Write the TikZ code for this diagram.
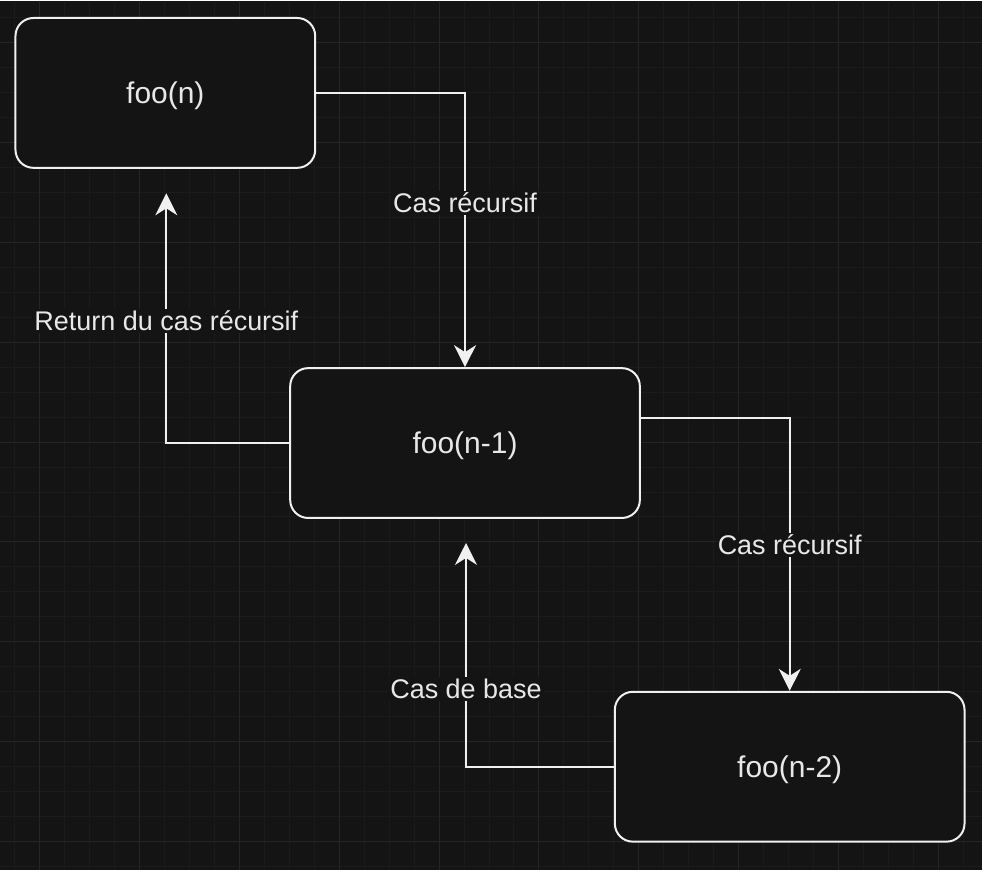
\documentclass[tikz,border=0pt]{standalone}
\usepackage{fontspec}
\setmainfont{Liberation Sans}
\usepackage{xcolor}
\definecolor{cvdark}{RGB}{20,20,20}
\definecolor{cvgrid}{RGB}{27,27,27}
\definecolor{cvmajor}{RGB}{37,37,37}
\definecolor{cvline}{RGB}{240,240,240}
\definecolor{cvtext}{RGB}{232,232,232}
\usepackage{tikz}
\usetikzlibrary{arrows.meta, positioning}

\tikzset{
  callbox/.style={draw=cvline, fill=cvdark, line width=2pt, rounded corners=18pt,
    minimum height=150pt, text=cvtext, text depth=-4pt,
    font=\fontsize{30}{36}\selectfont},
  link/.style={draw=cvline, line width=2pt,
    -{Stealth[length=22pt, width=22pt, inset=7pt]}},
  lbl/.style={fill=cvdark, text=cvtext, inner sep=2pt,
    font=\fontsize{27}{32}\selectfont}
}

\begin{document}
\begin{tikzpicture}[x=1pt, y=-1pt]
      % canvas and grid
      \fill[cvdark] (0,0) rectangle (982,870);
      \foreach \gx in {14,39,...,982}
        \draw[cvgrid, line width=1pt] (\gx,0) -- (\gx,870);
      \foreach \gy in {17,42,...,870}
        \draw[cvgrid, line width=1pt] (0,\gy) -- (982,\gy);
      \foreach \gx in {39,139,...,982}
        \draw[cvmajor, line width=1pt] (\gx,0) -- (\gx,870);
      \foreach \gy in {42,142,...,870}
        \draw[cvmajor, line width=1pt] (0,\gy) -- (982,\gy);

      % calls
      \node[callbox, minimum width=300pt] (fooN) at (165,92.5) {foo(n)};
      \node[callbox, minimum width=350pt] (fooN1) at (465,443) {foo(n-1)};
      \node[callbox, minimum width=350pt] (fooN2) at (790,767) {foo(n-2)};

      \coordinate (retTip) at (166,193);
      \coordinate (baseTip) at (466,543);

      % recursion and returns
      \draw[link] (fooN.east) -| node[lbl, pos=0.7] (lblRec) {Cas récursif} (fooN1.north);
      \draw[link] (fooN1.west) -| node[lbl, pos=0.745] (lblRet) {Return du cas récursif} (retTip);
      \draw[link] ([yshift=25pt]fooN1.east) -| node[lbl, pos=0.733] (lblRec2) {Cas récursif} (fooN2.north);
      \draw[link] (fooN2.west) -| node[lbl, pos=0.674] (lblBase) {Cas de base} (baseTip);
    \end{tikzpicture}
\end{document}
